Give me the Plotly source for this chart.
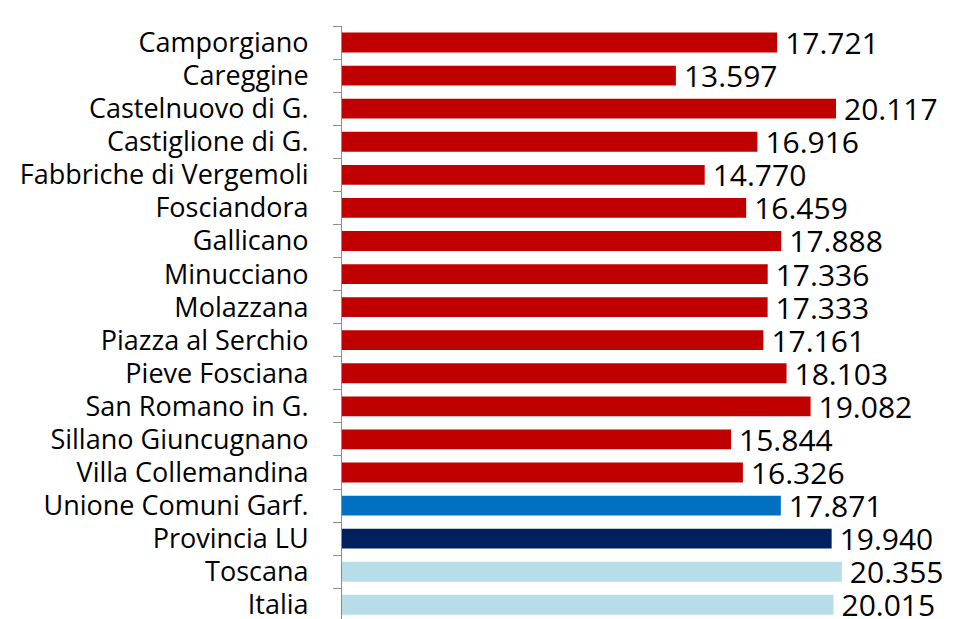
import plotly.graph_objects as go

categories = ["Camporgiano", "Careggine", "Castelnuovo di G.", "Castiglione di G.",
              "Fabbriche di Vergemoli", "Fosciandora", "Gallicano", "Minucciano",
              "Molazzana", "Piazza al Serchio", "Pieve Fosciana", "San Romano in G.",
              "Sillano Giuncugnano", "Villa Collemandina", "Unione Comuni Garf.",
              "Provincia LU", "Toscana", "Italia"]
values = [17721, 13597, 20117, 16916, 14770, 16459, 17888, 17336, 17333, 17161,
          18103, 19082, 15844, 16326, 17871, 19940, 20355, 20015]
colors = ["#C00000"] * 14 + ["#0070C0", "#002060", "#B7DDE8", "#B7DDE8"]

fig = go.Figure(go.Bar(
    x=values, y=categories, orientation="h",
    marker=dict(color=colors, line=dict(width=0)),
    text=["\u2009" + f"{v:,}".replace(",", ".") for v in values],
    textposition="outside", cliponaxis=False, constraintext="none",
    textfont=dict(family="Open Sans", size=30, color="black"),
    hoverinfo="skip",
))

fig.update_layout(
    width=945, height=611,
    margin=dict(l=334, r=0, t=17.5, b=0, autoexpand=False),
    paper_bgcolor="white", plot_bgcolor="white",
    bargap=0.4, showlegend=False,
    font=dict(family="Open Sans", color="black"),
)
fig.update_xaxes(range=[0, 24882], visible=False, showgrid=False, zeroline=False,
                 automargin=False)
fig.update_yaxes(
    type="category", range=[17.43, -0.5], autorange=False, automargin=False,
    showline=True, linecolor="#8C8C8C", linewidth=1,
    ticks="outside", tickson="boundaries", ticklen=8, tickcolor="#8C8C8C",
    tickfont=dict(family="Open Sans", size=27, color="black"),
    ticklabelstandoff=27, showgrid=False, zeroline=False,
)

fig.write_html("out.html")
